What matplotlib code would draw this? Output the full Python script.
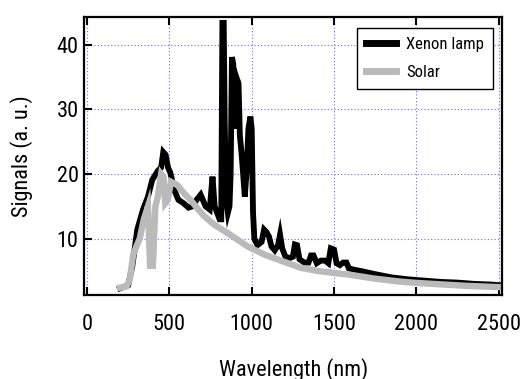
import numpy as np
import matplotlib
matplotlib.use("Agg")
import matplotlib.pyplot as plt
from matplotlib import font_manager

# narrow sans if one is installed, else Liberation Sans
names = {f.name for f in font_manager.fontManager.ttflist}
fam = "Liberation Sans"
for cand in ["Liberation Sans Narrow", "Roboto Condensed", "Open Sans Condensed", "DejaVu Sans Condensed"]:
    if cand in names:
        fam = cand
        break
plt.rcParams["font.family"] = [fam, "DejaVu Sans"]

# Xenon lamp spectrum
xe_wl = [200, 250, 275, 305, 340, 370, 396, 430, 450, 463, 477, 492, 506, 530, 555, 585, 616,
         640, 665, 690, 720, 745, 762, 775, 790, 805, 815, 822, 830, 836, 845, 855, 865, 872,
         880, 888, 896, 905, 912, 920, 928, 938, 948, 958, 968, 980, 992, 1000, 1008, 1016,
         1035, 1060, 1075, 1090, 1105, 1120, 1140, 1160, 1172, 1185, 1205, 1230, 1250, 1262,
         1275, 1290, 1320, 1345, 1360, 1375, 1395, 1420, 1445, 1465, 1480, 1500, 1515, 1535,
         1555, 1575, 1590, 1620, 1680, 1750, 1850, 1950, 2050, 2150, 2250, 2350, 2450, 2500]
xe_val = [2.3, 2.8, 5.7, 11.4, 14.5, 16.5, 19.1, 20.5, 21.0, 23.4, 23.0, 21.0, 20.2, 17.5,
          16.0, 15.5, 14.8, 15.0, 16.0, 16.8, 15.0, 14.5, 19.6, 15.0, 14.0, 13.0, 13.0, 43.4,
          43.4, 28.0, 16.0, 14.0, 15.0, 20.0, 38.1, 37.0, 30.0, 27.0, 34.6, 34.0, 26.0, 23.3,
          20.0, 16.5, 20.0, 27.0, 28.9, 27.0, 14.0, 10.0, 9.0, 9.5, 11.4, 11.0, 10.3, 8.8, 8.2,
          9.0, 10.6, 8.5, 7.2, 7.0, 7.2, 9.1, 9.0, 6.8, 6.3, 6.3, 7.4, 7.4, 6.2, 6.6, 6.6, 6.2,
          8.5, 8.3, 6.2, 5.9, 6.3, 6.3, 5.4, 5.2, 4.9, 4.5, 4.0, 3.7, 3.5, 3.3, 3.2, 3.0, 2.9, 2.8]

# Solar spectrum
sol_wl = [200, 240, 260, 280, 300, 320, 345, 370, 383, 400, 415, 430, 450, 465, 475, 490,
          510, 548, 590, 628, 660, 707, 770, 852, 975, 1080, 1177, 1296, 1400, 1500, 1600,
          1750, 1903, 2000, 2100, 2200, 2300, 2400, 2500]
sol_val = [2.4, 2.6, 3.7, 7.5, 8.8, 10.0, 13.0, 15.0, 5.8, 5.8, 15.0, 16.5, 20.0, 19.5, 15.5,
           16.0, 18.8, 18.3, 17.0, 16.0, 15.0, 13.6, 12.2, 10.9, 8.8, 7.5, 6.6, 5.5, 5.0, 4.7,
           4.4, 3.8, 3.35, 3.15, 3.0, 2.85, 2.7, 2.6, 2.5]

xticks = [0, 500, 1000, 1500, 2000, 2500]
yticks = [10, 20, 30, 40]

fig = plt.figure(figsize=(5.23, 3.79), dpi=100)
ax = fig.add_axes([0.161, 0.222, 0.799, 0.733])

ax.plot(xe_wl, xe_val, color="black", lw=4.2, label="Xenon lamp", solid_joinstyle="miter")
ax.plot(sol_wl, sol_val, color="#bababa", lw=4.6, label="Solar", solid_joinstyle="miter")

ax.set_xlim(-17, 2520)
ax.set_ylim(1.3, 44.3)
ax.set_xticks(xticks)
ax.set_yticks(yticks)
ax.grid(True, color="#6a6aff", ls=(0, (1, 2)), lw=0.8)
ax.set_axisbelow(True)

for s in ax.spines.values():
    s.set_linewidth(1.6)
ax.tick_params(axis="x", direction="in", top=True, bottom=True, length=6, width=1.5,
               labelsize=16, pad=14)
ax.tick_params(axis="y", direction="in", left=True, right=False, length=6, width=1.5,
               labelsize=16, pad=4)

ax.set_xlabel("Wavelength (nm)", fontsize=16, labelpad=16)
ax.set_ylabel("Signals (a. u.)", fontsize=16, labelpad=17)

leg = ax.legend(loc="upper right", fontsize=12, frameon=True, fancybox=False,
                edgecolor="black", framealpha=1, handlelength=1.8, handletextpad=0.6,
                borderpad=0.55, labelspacing=0.75, bbox_to_anchor=(0.999, 0.99))
leg.get_frame().set_linewidth(1.0)
for h in leg.get_lines():
    h.set_linewidth(5)

fig.savefig("out.png", dpi=100)
